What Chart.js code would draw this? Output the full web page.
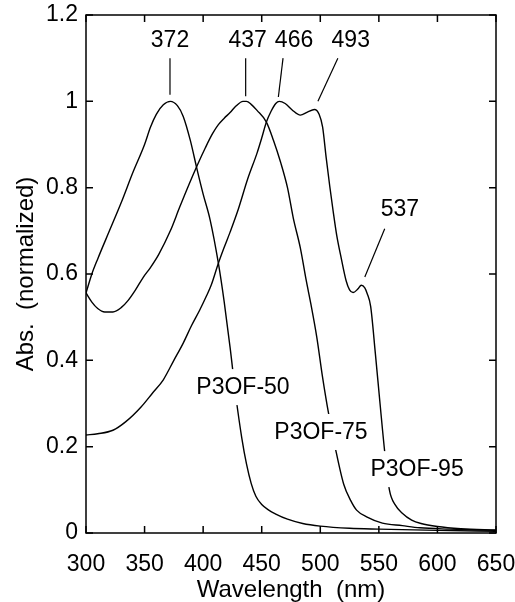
<!DOCTYPE html>
<html>
<head>
<meta charset="utf-8">
<script src="https://cdn.jsdelivr.net/npm/chart.js@4.4.1/dist/chart.umd.min.js"></script>
<style>
    html, body { margin: 0; padding: 0; background: #fff; }
    #box { width: 515px; height: 602px; }
</style>
</head>
<body>
<div id="box"><canvas id="myChartAbs"></canvas></div>
<script>
//DATA
const seriesNames = ['P3OF-50', 'P3OF-75', 'P3OF-95'];
const peakLabels = ['372', '437', '466', '493', '537'];

const waveA = [300, 305, 310, 320, 330, 340, 350, 355, 360, 366, 372, 378, 383, 389, 395, 400, 406, 413, 418, 423, 428, 433, 437, 441, 445, 450, 456, 462, 472, 485, 500, 525, 550, 600, 650];
const absA = [0.556, 0.600, 0.635, 0.700, 0.765, 0.835, 0.900, 0.940, 0.970, 0.992, 1.000, 0.990, 0.965, 0.910, 0.840, 0.785, 0.725, 0.625, 0.535, 0.430, 0.315, 0.220, 0.160, 0.115, 0.085, 0.066, 0.053, 0.044, 0.032, 0.022, 0.016, 0.011, 0.009, 0.006, 0.004];

const waveB = [300, 305, 310, 316, 323, 330, 336, 342, 349, 355, 362, 372, 380, 388, 395, 402, 408, 413, 418, 423, 428, 434, 437, 441, 446, 454, 460, 466, 472, 477, 483, 488, 492, 497, 502, 507, 513, 520, 526, 531, 540, 553, 570, 585, 610, 650];
const absB = [0.556, 0.535, 0.520, 0.512, 0.512, 0.522, 0.539, 0.562, 0.593, 0.615, 0.645, 0.700, 0.755, 0.808, 0.852, 0.893, 0.925, 0.946, 0.961, 0.974, 0.989, 1.000, 1.000, 0.993, 0.979, 0.952, 0.910, 0.860, 0.800, 0.729, 0.660, 0.585, 0.530, 0.454, 0.360, 0.278, 0.195, 0.113, 0.075, 0.053, 0.037, 0.023, 0.017, 0.012, 0.009, 0.006];

const waveC = [300, 310, 323, 334, 347, 357, 366, 375, 383, 390, 397, 403, 407, 413, 418, 423, 430, 438, 446, 450, 454, 458, 462, 465, 470, 476, 483, 489, 495, 499, 502, 505, 508, 511, 514, 518, 522, 525, 528, 532, 535, 538, 540, 543, 547, 551, 555, 559, 564, 570, 578, 586, 600, 620, 650];
const absC = [0.227, 0.230, 0.238, 0.258, 0.292, 0.325, 0.355, 0.400, 0.440, 0.480, 0.516, 0.550, 0.575, 0.625, 0.662, 0.697, 0.750, 0.820, 0.880, 0.915, 0.952, 0.977, 0.995, 1.000, 0.995, 0.980, 0.968, 0.975, 0.981, 0.970, 0.940, 0.870, 0.805, 0.745, 0.690, 0.635, 0.585, 0.563, 0.557, 0.565, 0.574, 0.568, 0.555, 0.525, 0.416, 0.300, 0.188, 0.100, 0.065, 0.046, 0.030, 0.022, 0.015, 0.010, 0.007];

const xTicks = [300, 350, 400, 450, 500, 550, 600, 650];
const yTicks = [0, 0.2, 0.4, 0.6, 0.8, 1, 1.2];


const FONT = "'Liberation Sans', Arial, Helvetica, sans-serif";

const toPoints = (xs, ys) => xs.map((v, i) => ({ x: v, y: ys[i] }));

//LABEL LAYOUT (data units)
const peakMarks = [
    { text: peakLabels[0], tx: 371.7, ty: 1.140, line: [371.7, 1.100, 371.7, 1.015] },
    { text: peakLabels[1], tx: 438.0, ty: 1.140, line: [436.3, 1.100, 436.3, 1.012] },
    { text: peakLabels[2], tx: 477.6, ty: 1.140, line: [468.2, 1.100, 464.2, 1.010] },
    { text: peakLabels[3], tx: 526.0, ty: 1.140, line: [515.0, 1.100, 498.0, 1.000] },
    { text: peakLabels[4], tx: 568.0, ty: 0.748, line: [555.0, 0.705, 538.0, 0.593] }
];
const seriesMarks = [
    { text: seriesNames[0], tx: 434.0, ty: 0.338 },
    { text: seriesNames[1], tx: 500.6, ty: 0.234 },
    { text: seriesNames[2], tx: 582.6, ty: 0.148 }
];

//FRAME, INWARD TICKS AND LABELS
const framePlugin = {
    id: 'framePlugin',
    afterDatasetsDraw(chart) {
        const { ctx, chartArea: a, scales } = chart;
        const sx = scales.x, sy = scales.y;
        ctx.save();
        ctx.strokeStyle = '#000';
        ctx.lineWidth = 1.5;
        ctx.strokeRect(a.left, a.top, a.right - a.left, a.bottom - a.top);

        const tick = 7;
        ctx.beginPath();
        xTicks.forEach(v => {
            const px = sx.getPixelForValue(v);
            ctx.moveTo(px, a.bottom); ctx.lineTo(px, a.bottom - tick);
            ctx.moveTo(px, a.top); ctx.lineTo(px, a.top + tick);
        });
        yTicks.forEach(v => {
            const py = sy.getPixelForValue(v);
            ctx.moveTo(a.left, py); ctx.lineTo(a.left + tick, py);
            ctx.moveTo(a.right, py); ctx.lineTo(a.right - tick, py);
        });
        ctx.stroke();

        ctx.font = '23px ' + FONT;
        ctx.textAlign = 'center';
        ctx.textBaseline = 'middle';
        ctx.fillStyle = '#000';

        ctx.lineWidth = 1.2;
        peakMarks.forEach(m => {
            ctx.beginPath();
            ctx.moveTo(sx.getPixelForValue(m.line[0]), sy.getPixelForValue(m.line[1]));
            ctx.lineTo(sx.getPixelForValue(m.line[2]), sy.getPixelForValue(m.line[3]));
            ctx.stroke();
            ctx.fillText(m.text, sx.getPixelForValue(m.tx), sy.getPixelForValue(m.ty));
        });

        seriesMarks.forEach(m => {
            const px = sx.getPixelForValue(m.tx);
            const py = sy.getPixelForValue(m.ty);
            const w = ctx.measureText(m.text).width;
            ctx.fillStyle = '#fff';
            ctx.fillRect(px - w / 2 - 3, py - 18, w + 6, 36);
            ctx.fillStyle = '#000';
            ctx.fillText(m.text, px, py + 1);
        });
        ctx.restore();
    }
};

const ctx = document.getElementById('myChartAbs');

new Chart(ctx, {
    type: 'line',
    data: {
        datasets: [
            { label: seriesNames[0], data: toPoints(waveA, absA) },
            { label: seriesNames[1], data: toPoints(waveB, absB) },
            { label: seriesNames[2], data: toPoints(waveC, absC) }
        ].map(d => Object.assign(d, {
            borderColor: '#000',
            borderWidth: 1.4,
            pointRadius: 0,
            fill: false,
            cubicInterpolationMode: 'monotone'
        }))
    },
    options: {
        responsive: true,
        maintainAspectRatio: false,
        animation: false,
        events: [],
        layout: { padding: { top: 15, right: 19, left: 0, bottom: 0 } },
        plugins: {
            legend: { display: false },
            tooltip: { enabled: false }
        },
        scales: {
            x: {
                type: 'linear',
                min: 300,
                max: 650,
                afterFit: (scale) => {
                    scale.height = 69;
                    scale.paddingLeft = 0;
                    scale.paddingRight = 0;
                },
                afterBuildTicks: (scale) => { scale.ticks = xTicks.map(v => ({ value: v })); },
                grid: { display: false, drawTicks: false },
                border: { display: false },
                ticks: {
                    padding: 18,
                    color: '#000',
                    font: { family: FONT, size: 23 }
                },
                title: {
                    display: true,
                    text: 'Wavelength  (nm)',
                    color: '#000',
                    font: { family: FONT, size: 24, lineHeight: 1 },
                    padding: { top: 0, bottom: 0 }
                }
            },
            y: {
                type: 'linear',
                min: 0,
                max: 1.2,
                afterFit: (scale) => {
                    scale.width = 86;
                    scale.paddingTop = 0;
                    scale.paddingBottom = 0;
                },
                afterBuildTicks: (scale) => { scale.ticks = yTicks.map(v => ({ value: v })); },
                grid: { display: false, drawTicks: false },
                border: { display: false },
                ticks: {
                    padding: 8,
                    color: '#000',
                    font: { family: FONT, size: 23 },
                    callback: (v) => String(Math.round(v * 10) / 10)
                },
                title: {
                    display: true,
                    text: 'Abs.  (normalized)',
                    color: '#000',
                    font: { family: FONT, size: 24, lineHeight: 1 },
                    padding: { top: 14, bottom: 0 }
                }
            }
        }
    },
    plugins: [framePlugin]
});
</script>
</body>
</html>
